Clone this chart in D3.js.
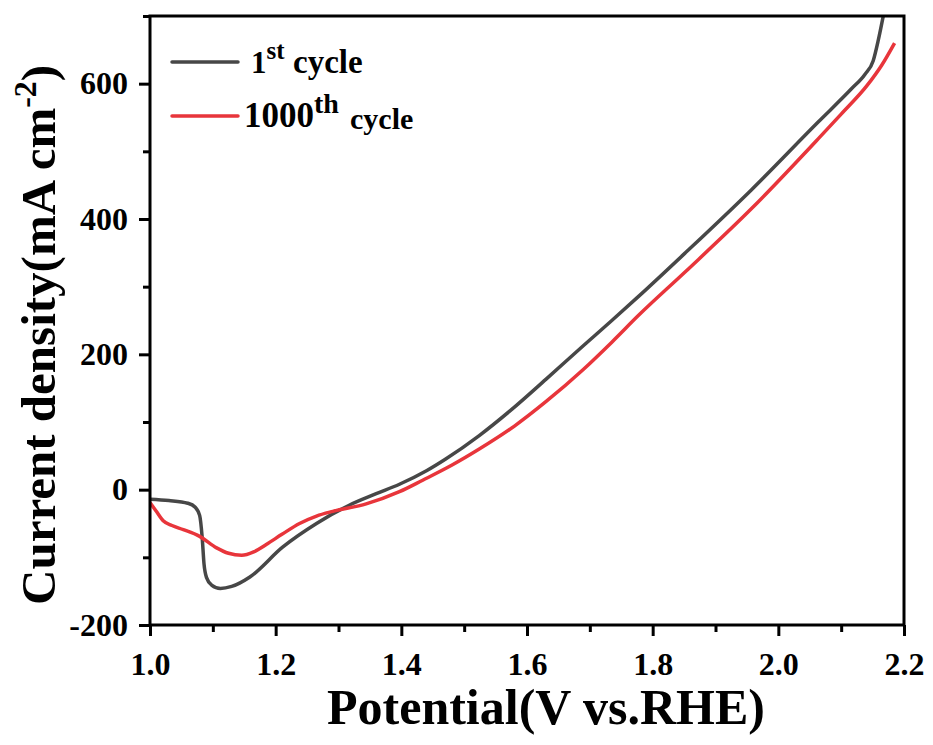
<!DOCTYPE html>
<html>
<head>
<meta charset="utf-8">
<script src="https://cdn.jsdelivr.net/npm/d3@7"></script>
<style>
  body { margin: 0; background: #fff; }
  text { font-family: "Liberation Serif", "Times New Roman", serif; font-weight: bold; fill: #000; }
</style>
</head>
<body>
<svg id="chart" width="933" height="745"></svg>
<script>
// 1st cycle
const cycle1Potential = [1.000, 1.030, 1.060, 1.072, 1.079, 1.083, 1.086, 1.090, 1.098, 1.112, 1.130, 1.159, 1.211, 1.265, 1.317, 1.360, 1.397, 1.440, 1.470, 1.524, 1.580, 1.630, 1.690, 1.735, 1.778, 1.852, 1.957, 2.063, 2.116, 2.138, 2.151, 2.159, 2.167]
const cycle1Current = [-14, -16, -20, -26, -38, -70, -110, -130, -141, -146, -143, -129, -85, -50, -23, -6, 8, 28, 45, 80, 122, 163, 213, 250, 286, 350, 443, 543, 592, 614, 634, 664, 700]

// 1000th cycle
const cycle1000Potential = [1.000, 1.010, 1.021, 1.035, 1.053, 1.079, 1.106, 1.125, 1.146, 1.165, 1.185, 1.210, 1.238, 1.265, 1.291, 1.344, 1.397, 1.434, 1.480, 1.524, 1.580, 1.630, 1.690, 1.735, 1.778, 1.852, 1.957, 2.063, 2.100, 2.141, 2.165, 2.185]
const cycle1000Current = [-19, -32, -46, -53, -59, -69, -86, -94, -97, -92, -81, -66, -50, -39, -32, -21, -3, 14, 36, 60, 94, 130, 178, 218, 258, 322, 415, 518, 555, 597, 628, 660]

const xTicks = [1.0, 1.2, 1.4, 1.6, 1.8, 2.0, 2.2]
const yTicks = [-200, 0, 200, 400, 600]

const svg = d3.select("#chart")
const mLeft = 150, mRight = 904, mTop = 16, mBottom = 625

const x = d3.scaleLinear().domain([1.0, 2.2]).range([mLeft, mRight])
const y = d3.scaleLinear().domain([-200, 700]).range([mBottom, mTop])

svg.append("defs").append("clipPath").attr("id", "clip")
  .append("rect").attr("x", mLeft).attr("y", mTop).attr("width", mRight - mLeft).attr("height", mBottom - mTop)
const plot = svg.append("g")

const line = d3.line().x(d => x(d[0])).y(d => y(d[1])).curve(d3.curveMonotoneX)

const series = [
  { px: cycle1Potential, py: cycle1Current, color: "#474747" },
  { px: cycle1000Potential, py: cycle1000Current, color: "#e8353b" }
]
series.forEach(s => {
  plot.append("path")
    .datum(s.px.map((v, i) => [v, s.py[i]]))
    .attr("clip-path", "url(#clip)")
    .attr("fill", "none")
    .attr("stroke", s.color)
    .attr("stroke-width", 3.5)
    .attr("stroke-linejoin", "round")
    .attr("d", line)
})

// frame
svg.append("rect")
  .attr("x", mLeft).attr("y", mTop).attr("width", mRight - mLeft).attr("height", mBottom - mTop)
  .attr("fill", "none").attr("stroke", "#000").attr("stroke-width", 3)

const styleTicks = g => {
  g.select(".domain").remove()
  g.selectAll(".tick line").attr("stroke-width", 3)
  g.selectAll(".tick text")
    .style("font-family", "'Liberation Serif', serif")
    .style("font-size", "32px")
    .style("font-weight", "bold")
}

// x axis
svg.append("g").attr("transform", `translate(0,${mBottom})`)
  .call(d3.axisBottom(x).tickValues(xTicks).tickSize(11).tickPadding(16).tickFormat(d3.format(".1f")))
  .call(styleTicks)
svg.append("g").attr("transform", `translate(0,${mBottom})`)
  .call(d3.axisBottom(x).tickValues(d3.range(1.1, 2.2, 0.2)).tickSize(7).tickFormat(""))
  .call(styleTicks)

// y axis
svg.append("g").attr("transform", `translate(${mLeft},0)`)
  .call(d3.axisLeft(y).tickValues(yTicks).tickSize(11).tickPadding(11).tickFormat(d => String(d)))
  .call(styleTicks)
svg.append("g").attr("transform", `translate(${mLeft},0)`)
  .call(d3.axisLeft(y).tickValues([-100, 100, 300, 500, 700]).tickSize(7).tickFormat(""))
  .call(styleTicks)

// axis titles
svg.append("text")
  .attr("x", 546).attr("y", 724)
  .attr("text-anchor", "middle").attr("font-size", 50)
  .text("Potential(V vs.RHE)")

const yt = svg.append("text")
  .attr("transform", "translate(55,605) rotate(-90)")
  .attr("text-anchor", "start").attr("font-size", 49)
yt.append("tspan").text("Current density(mA cm")
yt.append("tspan").attr("font-size", 32).attr("dy", -19).text("-2")
yt.append("tspan").attr("dy", 19).text(")")

// legend
const legend = [
  { num: "1", sup: "st", color: "#474747", yy: 62, nx: 251, nSize: 31, sSize: 25, cx: 293, cSize: 33, cdy: 0 },
  { num: "1000", sup: "th", color: "#e8353b", yy: 116, nx: 244, nSize: 35, sSize: 28, cx: 350, cSize: 30, cdy: 2 }
]
legend.forEach(l => {
  svg.append("line")
    .attr("x1", 172).attr("x2", 238).attr("y1", l.yy).attr("y2", l.yy)
    .attr("stroke", l.color).attr("stroke-width", 3.5).attr("stroke-linecap", "round")
  const t = svg.append("text").attr("x", l.nx).attr("y", l.yy + 11)
  t.append("tspan").attr("font-size", l.nSize).text(l.num)
  t.append("tspan").attr("font-size", l.sSize).attr("dy", -14).text(l.sup)
  t.append("tspan").attr("font-size", l.cSize).attr("x", l.cx).attr("dy", 14 + l.cdy).text("cycle")
})
</script>
</body>
</html>
